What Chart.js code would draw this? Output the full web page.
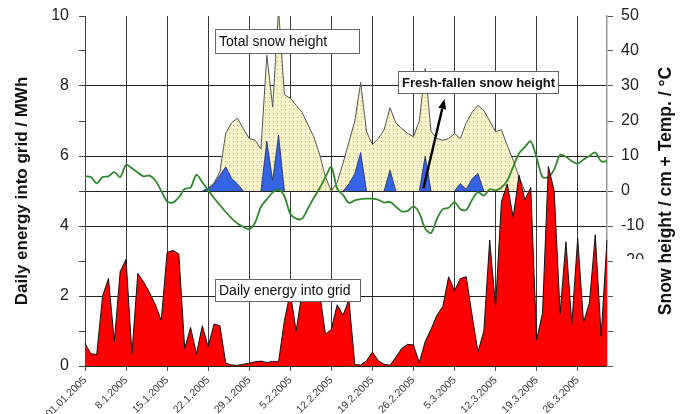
<!DOCTYPE html>
<html>
<head>
<meta charset="utf-8">
<script src="https://cdn.jsdelivr.net/npm/chart.js@4.4.1/dist/chart.umd.min.js"></script>
<style>
  html, body { margin: 0; padding: 0; background: #fff; }
  #wrap { width: 684px; height: 414px; }
</style>
</head>
<body>
<div id="wrap"><canvas id="c" width="684" height="414"></canvas></div>
<script>
// One category per day, 1 Jan 2005 .. 31 Mar 2005
const days = [];
for (let d = 0; d < 90; d++) {
  const dt = new Date(2005, 0, 1 + d);
  days.push(dt.getDate() + '.' + (dt.getMonth() + 1) + '.2005');
}

// Weekly axis labels
const weekLabels = ['01.01.2005', '8.1.2005', '15.1.2005', '22.1.2005', '29.1.2005', '5.2.2005',
  '12.2.2005', '19.2.2005', '26.2.2005', '5.3.2005', '12.3.2005', '19.3.2005', '26.3.2005'];

// Daily energy fed into the grid, MWh
const energy = [
  0.65, 0.35, 0.33, 2.0, 2.5, 0.7, 2.7, 3.05, 0.35, 2.65,
  2.4, 2.1, 1.75, 1.3, 3.25, 3.3, 3.2, 0.5, 1.1, 0.35,
  1.15, 0.55, 1.2, 1.15, 0.08, 0.03, 0.02, 0.05, 0.08, 0.12,
  0.14, 0.1, 0.13, 0.12, 1.3, 2.1, 1.0, 2.1, 2.2, 2.2,
  2.1, 0.9, 1.05, 1.75, 1.45, 1.9, 0.04, 0.03, 0.15, 0.4,
  0.15, 0.05, 0.02, 0.25, 0.5, 0.62, 0.6, 0.1, 0.7, 1.05,
  1.45, 1.7, 2.55, 2.15, 2.5, 2.55, 1.45, 0.4, 1.0, 3.6,
  1.7, 4.7, 5.2, 4.25, 5.45, 4.75, 5.1, 0.75, 1.5, 5.7,
  5.0, 1.5, 3.55, 1.2, 3.65, 1.25, 1.8, 3.75, 0.85, 3.6
];

// Total snow height, cm
const snowTotal = [
  null, null, null, null, null, null, null, null, null, null,
  null, null, null, null, null, null, null, null, null, null,
  0, 0.8, 2.3, 5.5, 16.5, 19.5, 20.8, 17.8, 15, 14.5,
  12, 38.8, 24, 52, 27.5, 26.5, 24.5, 22.5, 19, 15.5,
  10.5, 4, 0, 2.5, 8, 14, 20, 31, 17, 13.3,
  15, 17.5, 23.8, 19.5, 17.8, 16.5, 15.5, 20, 35, 17,
  15, 14.5, 15, 16.4, 15, 19.5, 22.5, 24.5, 23, 20,
  17, 17.5, 13, 8.8, 4, 0, null, null, null, null,
  null, null, null, null, null, null, null, null, null, null
];

// Fresh-fallen snow height, cm
const snowFresh = [
  null, null, null, null, null, null, null, null, null, null,
  null, null, null, null, null, null, null, null, null, null,
  0, 0.6, 2.0, 4.5, 6.9, 3.6, 2.0, 0, null, null,
  0, 14.2, 3.0, 16, 0, null, null, null, null, null,
  null, null, null, null, 0, 2.0, 5.0, 11, 0, null,
  null, 0, 6.0, 0, null, null, null, 0, 10, 0,
  null, null, null, 0, 2.1, 0.5, 3.5, 5, 0, null,
  null, null, null, null, null, null, null, null, null, null,
  null, null, null, null, null, null, null, null, null, null
];

// Air temperature, °C
const temperature = [
  4.2, 4.0, 2.2, 4.0, 4.2, 5.4, 4.0, 7.5, 6.5, 5.3,
  4.2, 4.4, 3.0, 0.0, -3.0, -3.3, -1.8, 0.6, 1.0, 4.6,
  2.5, 0.2, -2.0, -4.0, -6.0, -7.8, -9.3, -10.3, -10.9, -9.0,
  -4.5, -2.4, -0.4, 0.4, -1.5, -6.5, -7.9, -7.9, -5.0, -2.0,
  0.8, 4.0, 6.9, 0.6, -1.1, -3.4, -2.7, -2.3, -2.2, -2.2,
  -2.5, -3.3, -3.1, -4.5, -5.8, -5.7, -4.4, -6.3, -10.7, -12.0,
  -8.0, -5.2, -4.8, -3.2, -5.2, -5.4, -2.5, -0.3, -1.3, 0.5,
  0.2, 1.0, 3.0, 6.9, 10.7, 12.6, 14.2, 9.5, 4.0, 4.0,
  6.2, 10.3, 9.8, 8.5, 7.8, 9.0, 10.0, 11.0, 8.5, 8.5
];

const FONT = "'Liberation Sans', Arial, sans-serif";

// Labelled boxes placed in axis units (day index, left-axis MWh)
const notes = [
  { text: 'Total snow height', day: 22.2, energy: 9.62, w: 144, h: 24, weight: 'normal', size: 14 },
  { text: 'Fresh-fallen snow height', day: 53.45, energy: 8.43, w: 160, h: 22, weight: 'bold', size: 13 },
  { text: 'Daily energy into grid', day: 22.2, energy: 2.48, w: 145, h: 22, weight: 'normal', size: 14 }
];
// Arrow pointing from the fresh-snow peaks to its label (day index, cm)
const arrow = { from: { day: 57.7, snow: 0.8 }, to: { day: 61.3, snow: 26.3 } };

const canvas = document.getElementById('c');
const ctx = canvas.getContext('2d');

// light yellow fill with a fine dot raster
function dotPattern() {
  const p = document.createElement('canvas');
  p.width = 4; p.height = 4;
  const g = p.getContext('2d');
  g.fillStyle = '#f8f3c8';
  g.fillRect(0, 0, 4, 4);
  g.fillStyle = 'rgba(120,110,70,0.45)';
  g.fillRect(1, 1, 1, 1);
  return ctx.createPattern(p, 'repeat');
}

const overlay = {
  id: 'overlay',
  afterDraw(chart) {
    const { ctx: c, scales: { x, y, y2 } } = chart;
    c.save();

    // the -20 label is partly hidden
    const m = y2.getPixelForValue(-20);
    c.fillStyle = '#fff';
    c.fillRect(616, m - 2, 40, 14);

    // note boxes
    notes.forEach(n => {
      const px = Math.round(x.getPixelForValue(n.day));
      const py = Math.round(y.getPixelForValue(n.energy));
      c.fillStyle = '#fff';
      c.fillRect(px, py, n.w, n.h);
      c.strokeStyle = '#666';
      c.lineWidth = 1;
      c.strokeRect(px + 0.5, py + 0.5, n.w, n.h);
      c.fillStyle = '#111';
      c.font = n.weight + ' ' + n.size + 'px ' + FONT;
      c.textBaseline = 'middle';
      c.textAlign = 'left';
      c.fillText(n.text, px + 4, py + n.h / 2 + 1);
    });

    // arrow
    const x0 = x.getPixelForValue(arrow.from.day), y0 = y2.getPixelForValue(arrow.from.snow);
    const x1 = x.getPixelForValue(arrow.to.day), y1 = y2.getPixelForValue(arrow.to.snow);
    const ang = Math.atan2(y1 - y0, x1 - x0);
    const head = 10, half = 4;
    const bx = x1 - head * Math.cos(ang), by = y1 - head * Math.sin(ang);
    c.strokeStyle = '#000';
    c.lineWidth = 2.4;
    c.beginPath();
    c.moveTo(x0, y0);
    c.lineTo(bx, by);
    c.stroke();
    c.fillStyle = '#000';
    c.beginPath();
    c.moveTo(x1, y1);
    c.lineTo(bx + half * Math.sin(ang), by - half * Math.cos(ang));
    c.lineTo(bx - half * Math.sin(ang), by + half * Math.cos(ang));
    c.closePath();
    c.fill();

    // axis titles, both reading upwards
    c.fillStyle = '#111';
    c.font = 'bold 17px ' + FONT;
    c.textAlign = 'center';
    c.textBaseline = 'middle';
    const mid = (chart.chartArea.top + chart.chartArea.bottom) / 2;
    c.save();
    c.translate(22, mid);
    c.rotate(-Math.PI / 2);
    c.fillText('Daily energy into grid / MWh', 0, 0);
    c.restore();
    c.save();
    c.translate(666, mid);
    c.rotate(-Math.PI / 2);
    c.font = 'bold 17.5px ' + FONT;
    c.fillText('Snow height / cm + Temp. / °C', 0, 0);
    c.restore();

    c.restore();
  }
};

new Chart(ctx, {
  type: 'line',
  data: {
    labels: days,
    datasets: [
      {
        label: 'Daily energy into grid',
        data: energy,
        yAxisID: 'y',
        order: 1,
        fill: 'origin',
        backgroundColor: '#ff0000',
        borderColor: '#111',
        borderWidth: 1,
        pointRadius: 0,
        tension: 0
      },
      {
        label: 'Temperature',
        data: temperature,
        yAxisID: 'y2',
        order: 2,
        fill: false,
        borderColor: '#2d8a2d',
        borderWidth: 1.8,
        pointRadius: 0,
        tension: 0.3
      },
      {
        label: 'Fresh-fallen snow height',
        data: snowFresh,
        yAxisID: 'y2',
        order: 3,
        fill: { value: 0 },
        backgroundColor: '#3463e4',
        borderColor: '#1d2a60',
        borderWidth: 0.8,
        pointRadius: 0,
        tension: 0,
        spanGaps: false
      },
      {
        label: 'Total snow height',
        data: snowTotal,
        yAxisID: 'y2',
        order: 4,
        fill: { value: 0 },
        backgroundColor: dotPattern(),
        borderColor: '#555',
        borderWidth: 1,
        pointRadius: 0,
        tension: 0,
        spanGaps: false
      }
    ]
  },
  options: {
    responsive: false,
    animation: false,
    devicePixelRatio: 1,
    layout: { padding: { top: 16, left: 0, right: 0, bottom: 0 } },
    plugins: {
      legend: { display: false },
      tooltip: { enabled: false },
      filler: { propagate: false }
    },
    scales: {
      x: {
        type: 'category',
        offset: false,
        border: { color: '#222', width: 1 },
        grid: {
          color: c => (c.index % 7 === 0 ? '#3a3a3a' : 'transparent'),
          tickColor: c => (c.index % 7 === 0 ? '#555' : 'transparent'),
          tickLength: 5,
          lineWidth: 1
        },
        ticks: {
          autoSkip: false,
          maxRotation: 45,
          minRotation: 45,
          padding: 3,
          color: '#3a3a3a',
          font: { family: FONT, size: 10.5 },
          callback: (v, i) => (i % 7 === 0 ? weekLabels[i / 7] : '')
        },
        afterFit: s => { s.height = 48; s.paddingLeft = 0; s.paddingRight = 0; }
      },
      y: {
        position: 'left',
        min: 0,
        max: 10,
        border: { color: '#444', width: 1 },
        grid: {
          color: c => (c.tick && c.tick.value % 2 === 0 && c.tick.value > 0 && c.tick.value < 10 ? '#222' : 'transparent'),
          tickColor: '#444',
          tickLength: 6,
          lineWidth: 1
        },
        ticks: {
          stepSize: 1,
          padding: 10,
          color: '#222',
          font: { family: FONT, size: 16 },
          callback: v => (v % 2 === 0 ? v : '')
        },
        afterFit: s => { s.width = 85; s.paddingTop = 0; s.paddingBottom = 0; }
      },
      y2: {
        position: 'right',
        min: -50,
        max: 50,
        border: { color: '#999', width: 1.5 },
        grid: {
          color: c => (c.tick && c.tick.value === 0 ? '#222' : 'transparent'),
          tickColor: '#555',
          tickLength: 6,
          lineWidth: 1
        },
        ticks: {
          stepSize: 10,
          padding: 8,
          color: '#222',
          font: { family: FONT, size: 16 },
          callback: v => (v >= -20 ? v : '')
        },
        afterFit: s => { s.width = 77; s.paddingTop = 0; s.paddingBottom = 0; }
      }
    }
  },
  plugins: [overlay]
});
</script>
</body>
</html>
